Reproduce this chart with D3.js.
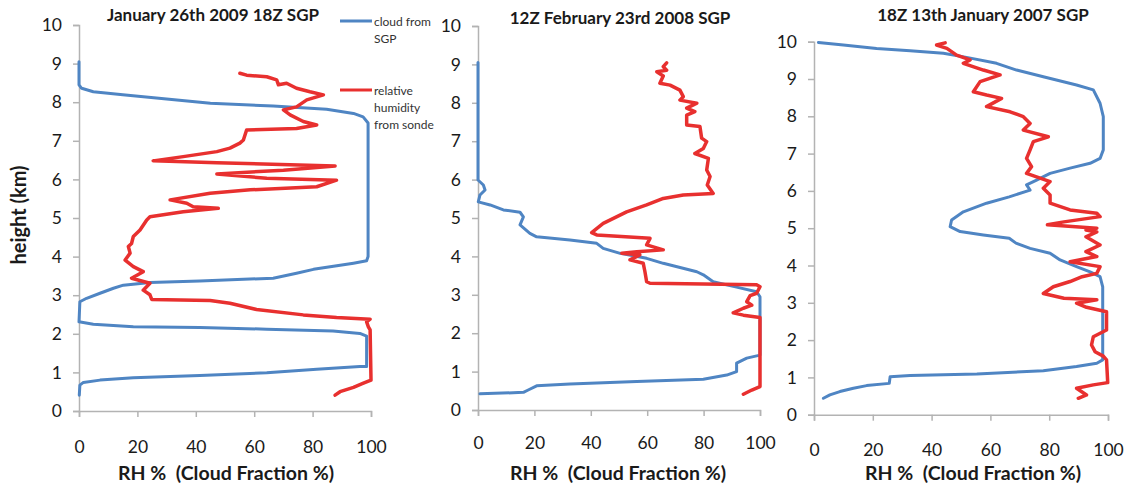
<!DOCTYPE html>
<html>
<head>
<meta charset="utf-8">
<script src="https://cdn.jsdelivr.net/npm/d3@7"></script>
<style>
  html, body { margin: 0; padding: 0; background: #fff; }
  svg { display: block; }
</style>
</head>
<body>
<svg id="chart" width="1132" height="486"></svg>
<script>
// Soundings at SGP: each point is [percent, height km]
const titles = ["January 26th 2009 18Z SGP", "12Z February 23rd 2008 SGP", "18Z 13th January 2007 SGP"];
const xTicks = [0, 20, 40, 60, 80, 100];
const yTicks = [0, 1, 2, 3, 4, 5, 6, 7, 8, 9, 10];
const legendLabels = [["cloud from", "SGP"], ["relative", "humidity", "from sonde"]];
const xTitle = "RH %  (Cloud Fraction %)";
const yTitle = "height (km)";

const cloud2009 = [
  [0, 9.05], [0, 8.45], [0.9, 8.36], [4.9, 8.27], [15, 8.19], [30, 8.08], [45, 7.97], [66.5, 7.90],
  [84.8, 7.82], [94, 7.71], [97.3, 7.62], [99, 7.46], [99, 4.0], [98.5, 3.89], [94, 3.83], [80.3, 3.67],
  [74.5, 3.57], [66.5, 3.44], [41.4, 3.37], [24.3, 3.33], [15.2, 3.26], [11.8, 3.18], [7.2, 3.05],
  [2.6, 2.92], [0.3, 2.83], [0, 2.31], [4.9, 2.25], [18.6, 2.18], [41.4, 2.16], [64.3, 2.12], [87, 2.07],
  [96.2, 2.01], [98.5, 1.94], [98.5, 1.15], [96.2, 1.15], [81.4, 1.08], [64.3, 0.99], [41.4, 0.92],
  [18.6, 0.86], [7.2, 0.80], [1.5, 0.74], [0.3, 0.67], [0.1, 0.41]
];
const rh2009 = [
  [55.1, 8.75], [57.4, 8.70], [64.3, 8.66], [67.7, 8.58], [68.3, 8.45], [71.1, 8.49], [74.5, 8.36],
  [79.1, 8.27], [83.7, 8.19], [78, 8.06], [74.5, 7.88], [70, 7.80], [72.3, 7.67], [76.8, 7.50],
  [81.4, 7.41], [74.5, 7.32], [57.4, 7.28], [56.3, 7.02], [55.1, 6.94], [51.7, 6.81], [47.2, 6.72],
  [35.7, 6.59], [25.4, 6.48], [47.2, 6.43], [87.7, 6.35], [70, 6.24], [47.2, 6.14], [64.3, 6.03],
  [88.2, 5.98], [81.4, 5.81], [58.6, 5.73], [44.9, 5.64], [31.2, 5.47], [36.9, 5.38], [39.1, 5.29],
  [47.7, 5.25], [35.7, 5.16], [24.3, 5.03], [23.2, 4.95], [20.9, 4.69], [18.6, 4.52], [18, 4.34],
  [16.9, 4.26], [17.5, 4.09], [15.8, 3.91], [18.6, 3.74], [22, 3.61], [18, 3.44], [24.3, 3.31],
  [22, 3.13], [24.3, 3.01], [24.9, 2.89], [44.9, 2.86], [51.7, 2.79], [60.8, 2.63], [76.8, 2.49],
  [88.2, 2.42], [99.7, 2.38], [98.5, 2.31], [99.1, 2.18], [99.7, 2.10], [100, 0.80], [97.4, 0.72],
  [94, 0.61], [89.4, 0.50], [87.7, 0.41]
];
const cloud2008 = [
  [0, 9.05], [0, 5.99], [1.9, 5.86], [2.5, 5.73], [0.7, 5.60], [0.1, 5.42], [4.3, 5.34], [9, 5.21],
  [14.9, 5.15], [16.1, 5.03], [14.9, 4.82], [18.4, 4.60], [20.8, 4.51], [32.6, 4.43], [42.1, 4.34],
  [44.4, 4.21], [50.4, 4.08], [59.8, 3.95], [65.7, 3.82], [77.6, 3.60], [79.9, 3.52], [83.4, 3.34],
  [91.7, 3.20], [98.8, 3.08], [100, 2.95], [100, 1.43], [95.3, 1.35], [91.7, 1.22], [91.7, 1.00],
  [88.2, 0.91], [79.9, 0.80], [56.3, 0.74], [32.6, 0.68], [20.8, 0.63], [17.8, 0.52], [16.1, 0.46],
  [0.7, 0.42]
];
const rh2008 = [
  [66.9, 9.04], [65.7, 8.94], [66.9, 8.85], [63.4, 8.81], [65.7, 8.70], [64.5, 8.51], [68.1, 8.46],
  [71.6, 8.33], [72.8, 8.16], [71.6, 8.07], [77.6, 7.99], [74, 7.86], [76.9, 7.77], [74, 7.68],
  [74, 7.42], [78.7, 7.38], [79.3, 7.08], [81.1, 6.99], [79.9, 6.81], [76.9, 6.68], [81.7, 6.55],
  [81.1, 6.25], [82.3, 6.08], [81.3, 5.86], [83.4, 5.64], [72.8, 5.60], [65.7, 5.51], [59.8, 5.34],
  [52.7, 5.16], [44.4, 4.86], [40.3, 4.62], [42.1, 4.56], [61, 4.47], [59.8, 4.30], [65.7, 4.17],
  [56.3, 4.12], [51, 4.08], [57.4, 4.04], [53.9, 3.91], [58.6, 3.82], [59.2, 3.60], [59.8, 3.34],
  [61, 3.30], [98.8, 3.26], [100, 3.21], [98.8, 3.04], [96.5, 2.98], [95.3, 2.82], [97.1, 2.73],
  [94.1, 2.65], [90.5, 2.53], [94.1, 2.47], [100, 2.41], [100, 0.61], [97.1, 0.52], [94.1, 0.41]
];
const cloud2007 = [
  [1.5, 9.98], [10, 9.91], [21.3, 9.82], [32.7, 9.76], [44, 9.69], [51.9, 9.58], [62.1, 9.42],
  [68.9, 9.24], [78, 9.06], [89.3, 8.84], [95, 8.71], [97.3, 8.35], [98.4, 7.99], [98.4, 7.10],
  [97.3, 6.87], [93.9, 6.74], [87.1, 6.61], [80.3, 6.47], [75.7, 6.29], [72.3, 6.16], [73.5, 6.02],
  [66.4, 5.84], [58.7, 5.67], [50.8, 5.44], [46.8, 5.22], [46.3, 5.04], [49.7, 4.91], [57.6, 4.82],
  [66.4, 4.73], [68.7, 4.60], [73.5, 4.46], [80.3, 4.33], [83.7, 4.15], [89.3, 3.97], [93.9, 3.83],
  [97.3, 3.70], [98.2, 3.43], [98.2, 1.47], [96.2, 1.38], [89.3, 1.29], [78, 1.18], [55.4, 1.09],
  [32.7, 1.05], [25.9, 1.02], [25.6, 0.84], [17.9, 0.78], [13.4, 0.71], [8.8, 0.62], [5.4, 0.53],
  [3.2, 0.44]
];
const rh2007 = [
  [44.6, 9.97], [41.7, 9.91], [45.2, 9.82], [48.5, 9.64], [53.1, 9.51], [50.8, 9.42], [57.6, 9.24],
  [63.3, 9.11], [56.5, 8.93], [54.2, 8.66], [58.7, 8.57], [63.8, 8.48], [58.7, 8.26], [66.7, 8.12],
  [71.2, 7.99], [73.5, 7.81], [71.2, 7.63], [79.7, 7.45], [74.6, 7.32], [73.5, 7.10], [72.3, 6.87],
  [74, 6.65], [72.3, 6.47], [80.3, 6.25], [78, 6.07], [80.3, 5.89], [80.3, 5.67], [87.1, 5.49],
  [96.2, 5.40], [97.3, 5.31], [85, 5.17], [79.4, 5.09], [96.2, 5.00], [92.5, 4.95], [96.2, 4.90],
  [92.5, 4.77], [97.3, 4.55], [92.5, 4.37], [96.2, 4.24], [87.1, 4.10], [97.3, 3.97], [96.2, 3.79],
  [91.2, 3.70], [87.1, 3.57], [81.4, 3.43], [78, 3.25], [85, 3.12], [96.2, 3.08], [89.3, 2.99],
  [92.7, 2.88], [99.5, 2.76], [99.5, 2.27], [95, 2.09], [94.4, 1.87], [95.6, 1.69], [98.4, 1.57],
  [99.5, 1.47], [99.9, 0.86], [95, 0.80], [89.3, 0.71], [92.7, 0.53], [89.9, 0.44]
];

const cloudColor = "#4f85c3";
const rhColor = "#e8302f";
const axisColor = "#b3b3b3";
const textColor = "#1a1a1a";
const fontFamily = "Lato, 'Open Sans', sans-serif";

const panels = [
  { title: titles[0], cloud: cloud2009, rh: rh2009, x0: 79, x1: 371, yTop: 25, yBot: 411, titleX: 213, titleY: 21, xTitleX: 226, xPad: 23.5 },
  { title: titles[1], cloud: cloud2008, rh: rh2008, x0: 478, x1: 760, yTop: 26, yBot: 410, titleX: 620, titleY: 24, xTitleX: 618, xPad: 20.5 },
  { title: titles[2], cloud: cloud2007, rh: rh2007, x0: 814, x1: 1108, yTop: 41.7, yBot: 414.7, titleX: 983, titleY: 21, xTitleX: 973, xPad: 22.5 }
];

const svg = d3.select("#chart");

panels.forEach(p => {
  const x = d3.scaleLinear().domain([0, 100]).range([p.x0, p.x1]);
  const y = d3.scaleLinear().domain([0, 10]).range([p.yBot, p.yTop]);
  const g = svg.append("g");

  // y axis
  const yAxis = d3.axisLeft(y).tickValues(yTicks).tickSize(6).tickPadding(11)
    .tickFormat(d3.format("d"));
  const ya = g.append("g").attr("transform", `translate(${p.x0},0)`).call(yAxis);
  ya.select(".domain").attr("stroke", axisColor).attr("stroke-width", 1.5);
  ya.selectAll(".tick line").attr("stroke", axisColor).attr("stroke-width", 1.5);
  ya.selectAll(".tick text").attr("fill", textColor)
    .style("font-family", fontFamily).style("font-size", "17.5px");

  // x axis
  const xAxis = d3.axisBottom(x).tickValues(xTicks).tickSize(6).tickPadding(p.xPad)
    .tickFormat(d3.format("d"));
  const xa = g.append("g").attr("transform", `translate(0,${p.yBot})`).call(xAxis);
  xa.select(".domain").attr("stroke", axisColor).attr("stroke-width", 1.5);
  xa.selectAll(".tick line").attr("stroke", axisColor).attr("stroke-width", 1.5);
  xa.selectAll(".tick text").attr("fill", textColor)
    .style("font-family", fontFamily).style("font-size", "17.5px");

  const line = d3.line().x(d => x(d[0])).y(d => y(d[1]));

  g.append("path").datum(p.cloud).attr("d", line)
    .attr("fill", "none").attr("stroke", cloudColor).attr("stroke-width", 3)
    .attr("stroke-linejoin", "round").attr("stroke-linecap", "round");
  g.append("path").datum(p.rh).attr("d", line)
    .attr("fill", "none").attr("stroke", rhColor).attr("stroke-width", 3.5)
    .attr("stroke-linejoin", "round").attr("stroke-linecap", "round");

  // panel title
  g.append("text").attr("x", p.titleX).attr("y", p.titleY).attr("text-anchor", "middle")
    .attr("fill", textColor).style("font-family", fontFamily).style("font-weight", "bold")
    .style("font-size", "17px").text(p.title);

  // x axis title
  g.append("text").attr("x", p.xTitleX).attr("y", 480).attr("text-anchor", "middle")
    .attr("fill", textColor).style("font-family", fontFamily).style("font-weight", "bold")
    .style("font-size", "19.5px").style("white-space", "pre").text(xTitle);
});

// y axis title for the first panel
svg.append("text").attr("transform", "translate(26,215) rotate(-90)").attr("text-anchor", "middle")
  .attr("fill", textColor).style("font-family", fontFamily).style("font-weight", "bold")
  .style("font-size", "20px").text(yTitle);

// legend
const legend = svg.append("g");
const legendItems = [
  { color: cloudColor, y: 21, lines: legendLabels[0] },
  { color: rhColor, y: 90, lines: legendLabels[1] }
];
legendItems.forEach(item => {
  legend.append("line").attr("x1", 340).attr("x2", 372).attr("y1", item.y).attr("y2", item.y)
    .attr("stroke", item.color).attr("stroke-width", 3);
  item.lines.forEach((t, i) => {
    legend.append("text").attr("x", 374).attr("y", item.y + 5 + i * 17)
      .attr("fill", "#333").style("font-family", fontFamily).style("font-size", "12px").text(t);
  });
});
</script>
</body>
</html>
